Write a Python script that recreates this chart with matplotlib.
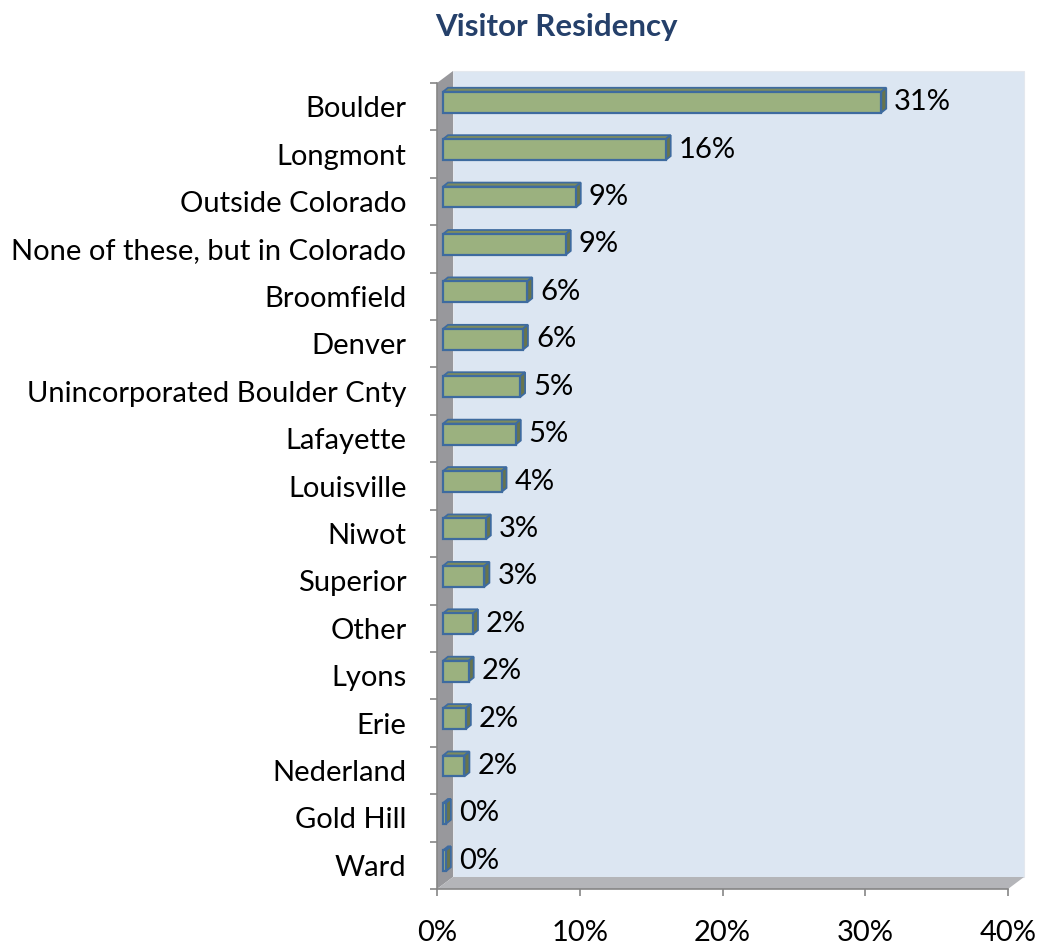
import matplotlib
matplotlib.use("Agg")
import matplotlib.pyplot as plt
from matplotlib.patches import Polygon
import numpy as np

categories = ["Boulder", "Longmont", "Outside Colorado", "None of these, but in Colorado",
              "Broomfield", "Denver", "Unincorporated Boulder Cnty", "Lafayette",
              "Louisville", "Niwot", "Superior", "Other", "Lyons", "Erie",
              "Nederland", "Gold Hill", "Ward"]
values = [30.7, 15.6, 9.3, 8.6, 5.9, 5.6, 5.4, 5.1, 4.1, 3.0, 2.9, 2.1, 1.8, 1.6, 1.5, 0.2, 0.2]
labels = ["31%", "16%", "9%", "9%", "6%", "6%", "5%", "5%", "4%", "3%", "3%",
          "2%", "2%", "2%", "2%", "0%", "0%"]
xticks = [0, 10, 20, 30, 40]
xticklabels = ["0%", "10%", "20%", "30%", "40%"]

plt.rcParams["font.family"] = ["Lato", "DejaVu Sans"]

W, H = 1040, 949
fig = plt.figure(figsize=(W / 100, H / 100), dpi=100)
# front plane of the 3D box: x 437..1008 px, y 83..889 px
ax = fig.add_axes([437 / W, 1 - 889 / H, 571 / W, 806 / H])
n = len(categories)
ax.set_xlim(0, 40)
ax.set_ylim(n - 0.5, -0.5)
ax.set_facecolor("none")

px_x = 571 / 40.0      # pixels per percent
px_y = 806 / n         # pixels per category
DX = 16 / px_x         # wall depth
DY = 12 / px_y
xmax = 40

# walls
back = Polygon([(DX, -0.5 - DY), (xmax + DX, -0.5 - DY), (xmax + DX, n - 0.5 - DY),
                (DX, n - 0.5 - DY)], closed=True, fc="#dce6f2", ec="#e4e8ee", lw=0.8,
               zorder=0, clip_on=False)
side = Polygon([(0, -0.5), (DX, -0.5 - DY), (DX, n - 0.5 - DY), (0, n - 0.5)],
               closed=True, fc="#98989c", ec="none", zorder=0.5, clip_on=False)
floor = Polygon([(0, n - 0.5), (DX, n - 0.5 - DY), (xmax + DX, n - 0.5 - DY), (xmax, n - 0.5)],
                closed=True, fc="#b4b5b9", ec="none", zorder=0.5, clip_on=False)
for p in (back, side, floor):
    ax.add_patch(p)

# bars sit part way into the depth
fx = 0.375 * DX
fy = -0.375 * DY
bdx = 5 / px_x
bdy = 4 / px_y
bh = 0.44
ypos = np.arange(n) + fy

face = "#9bb17f"
top_c = "#7d8c5e"
side_c = "#68754c"
edge = "#3e6b9f"

ax.barh(ypos, values, left=fx, height=bh, color=face, edgecolor=edge, linewidth=1.6, zorder=3)
for y, v in zip(ypos, values):
    x0, x1 = fx, fx + v
    yt = y - bh / 2
    yb = y + bh / 2
    top = Polygon([(x0, yt), (x0 + bdx, yt - bdy), (x1 + bdx, yt - bdy), (x1, yt)],
                  closed=True, fc=top_c, ec=edge, lw=1.3, zorder=2.5, clip_on=False)
    sd = Polygon([(x1, yt), (x1 + bdx, yt - bdy), (x1 + bdx, yb - bdy), (x1, yb)],
                 closed=True, fc=side_c, ec=edge, lw=1.3, zorder=2.5, clip_on=False)
    ax.add_patch(top)
    ax.add_patch(sd)

for y, v, lab in zip(ypos, values, labels):
    ax.text(fx + v + bdx + 8 / px_x, y, lab, va="center", ha="left", fontsize=21,
            color="black", zorder=5, clip_on=False)

# axes
for s in ("top", "right"):
    ax.spines[s].set_visible(False)
for s in ("left", "bottom"):
    ax.spines[s].set_color("#868686")
    ax.spines[s].set_linewidth(1.2)

ax.set_yticks(np.arange(n))
ax.set_yticklabels(categories, fontsize=21)
ax.set_yticks(np.arange(n + 1) - 0.5, minor=True)
ax.tick_params(axis="y", which="major", length=0, pad=22)
ax.tick_params(axis="y", which="minor", length=5, width=1.2, color="#868686")

ax.set_xticks(xticks)
ax.set_xticklabels(xticklabels, fontsize=21)
ax.tick_params(axis="x", which="major", length=5, width=1.2, color="#868686", pad=17)

fig.text(556 / W, 1 - 27 / H, "Visitor Residency", ha="center", va="center",
         fontsize=22.5, fontweight="bold", color="#25406a")

fig.savefig("out.png", dpi=100)
